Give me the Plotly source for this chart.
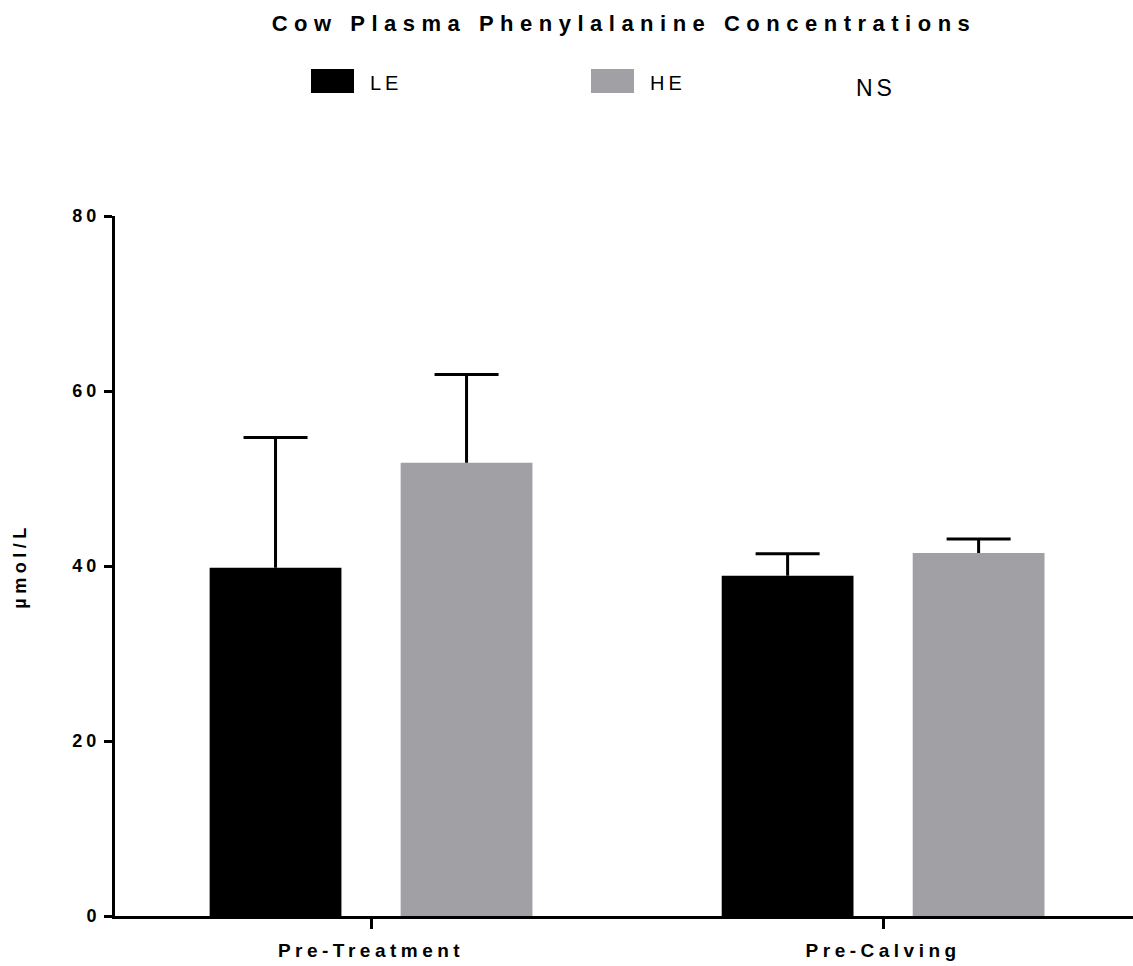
import plotly.graph_objects as go

# ---- data ----
categories = ["Pre-Treatment", "Pre-Calving"]
le_values = [39.8, 38.9]
le_errors = [14.9, 2.5]
he_values = [51.8, 41.5]
he_errors = [10.1, 1.6]
y_ticks = [0, 20, 40, 60, 80]
series_names = ["LE", "HE"]
title_text = "Cow Plasma Phenylalanine Concentrations"
y_title = "µmol/L"
note_text = "NS"

# ---- style ----
W, H = 1133, 966
L, R, T, B = 115, 0, 216, 50
BLACK = "#000000"
GRAY = "#A1A0A5"
FONT = "Arial, Liberation Sans, sans-serif"

def px2x(px):
    return (px - L) / (W - L - R)

def py2y(py):
    return (H - B - py) / (H - T - B)

fig = go.Figure()
for name, vals, errs, col in [(series_names[0], le_values, le_errors, BLACK),
                              (series_names[1], he_values, he_errors, GRAY)]:
    fig.add_trace(go.Bar(
        x=categories, y=vals, name=name,
        marker=dict(color=col, line=dict(width=0)),
        error_y=dict(type="data", symmetric=False, array=errs,
                     arrayminus=[0] * len(errs), color=BLACK,
                     thickness=3, width=32),
        showlegend=False,
    ))

fig.update_layout(
    width=W, height=H,
    margin=dict(l=L, r=R, t=T, b=B, autoexpand=False),
    paper_bgcolor="white", plot_bgcolor="white",
    barmode="group", bargap=0.254, bargroupgap=0.31,
    font=dict(family=FONT, color=BLACK),
    title=dict(text="<b>" + title_text + "</b>", x=0.5, xref="paper",
               xanchor="center", y=1 - 23 / H, yanchor="middle",
               font=dict(size=22, family=FONT, color=BLACK)),
    xaxis=dict(range=[-0.5, 1.488], showline=True, linewidth=3,
               linecolor=BLACK, ticks="outside", ticklen=10, tickwidth=3,
               tickcolor=BLACK, showgrid=False, zeroline=False,
               ticklabelstandoff=5,
               tickfont=dict(size=19, family=FONT, color=BLACK, weight="bold")),
    yaxis=dict(range=[0, 80], tickvals=y_ticks, showline=True, linewidth=3,
               linecolor=BLACK, ticks="outside", ticklen=8, tickwidth=3,
               tickcolor=BLACK, showgrid=False, zeroline=False,
               tickfont=dict(size=18, family=FONT, color=BLACK, weight="bold")),
)
fig.update_yaxes(title=dict(text="<b>" + y_title + "</b>", standoff=50,
                            font=dict(size=18, family=FONT, color=BLACK)))

# manual legend
legend_items = [(series_names[0], BLACK, 311, 354, 372),
                (series_names[1], GRAY, 591, 634, 652)]
for name, col, x0, x1, tx in legend_items:
    fig.add_shape(type="rect", xref="paper", yref="paper",
                  x0=px2x(x0), x1=px2x(x1), y0=py2y(93), y1=py2y(69),
                  fillcolor=col, line=dict(width=0))
    fig.add_annotation(text=name, xref="paper", yref="paper",
                       x=px2x(tx), y=py2y(83), xanchor="left", yanchor="middle",
                       showarrow=False, font=dict(size=20, family=FONT, color=BLACK))
fig.add_annotation(text=note_text, xref="paper", yref="paper",
                   x=px2x(858), y=py2y(88), xanchor="left", yanchor="middle",
                   showarrow=False, font=dict(size=23, family=FONT, color=BLACK))

post_js = """
var gd = document.getElementById('{plot_id}');
function sp(){
  var rules = [['.gtitle','6.5px'],['.xtick text','4.5px'],['.ytick text','4px'],
               ['.ytitle','4.5px'],['.annotation-text','4px']];
  rules.forEach(function(r){
    gd.querySelectorAll(r[0]).forEach(function(e){ e.style.letterSpacing = r[1]; });
  });
  // upper-only error bars: drop the lower cap
  gd.querySelectorAll('path.yerror').forEach(function(p){
    var d = p.getAttribute('d') || '';
    p.setAttribute('d', d.replace(/m-[\\d.]+,0h[\\d.]+$/, ''));
  });
}
sp();
gd.on('plotly_afterplot', sp);
"""

fig.write_html("out.html", post_script=post_js)
